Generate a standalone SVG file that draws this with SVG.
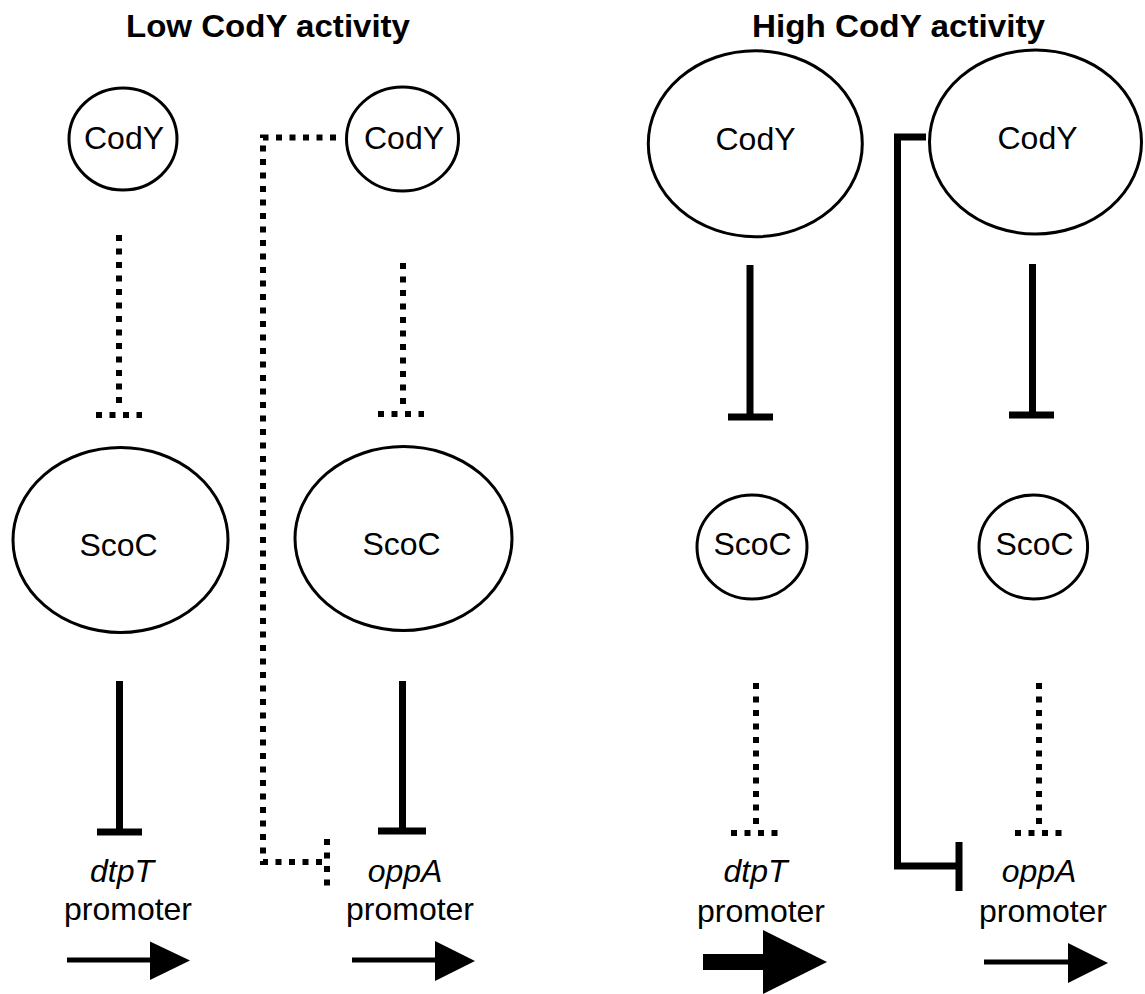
<svg xmlns="http://www.w3.org/2000/svg" width="1145" height="994" viewBox="0 0 1145 994">
<style>
.node{fill:#fff;stroke:#000;stroke-width:3}
.lbl{font-family:"Liberation Sans",Arial,sans-serif;font-size:32px;text-anchor:middle;fill:#000}
.it{font-style:italic}
.title{font-family:"Liberation Sans",Arial,sans-serif;font-size:32px;font-weight:bold;text-anchor:middle;fill:#000}
.solid{fill:none;stroke:#000;stroke-width:7}
.dot{fill:none;stroke:#000;stroke-width:6;stroke-dasharray:6 7.5}
.arr{fill:none;stroke:#000;stroke-width:5}
</style>
<rect width="1145" height="994" fill="#fff"/>
<g id="titles">
<text class="title" x="268" y="37" textLength="284" lengthAdjust="spacingAndGlyphs">Low CodY activity</text>
<text class="title" x="898.5" y="37" textLength="293" lengthAdjust="spacingAndGlyphs">High CodY activity</text>
</g>
<g id="connectors">
<path class="dot" d="M119 235V410M96 415H142"/>
<path class="dot" d="M403 263V408M378 414H424"/>
<path class="dot" d="M336 137.5H263V862H327M327 839V887"/>
<path class="solid" d="M119.5 681V832M97 832H142" stroke-width="6.5"/>
<path class="solid" d="M402.5 681V831M378 831H426" stroke-width="6.5"/>
<path class="solid" d="M750 265V417M728 417H773" stroke-width="6.5"/>
<path class="solid" d="M1032.5 264V415M1009 415H1054" stroke-width="6.5"/>
<path class="dot" d="M756 683V827M731 833H779"/>
<path class="dot" d="M1039 683V827M1015 833H1063"/>
<path class="solid" d="M926 137H897.5V866H959M959 842V891"/>
</g>
<g id="arrows">
<path class="arr" d="M67 960H152"/><polygon points="150,941.5 190,960.5 150,980"/>
<path class="arr" d="M352 960H437"/><polygon points="435,941 475,961 435,981"/>
<rect x="703" y="954" width="62" height="16"/><polygon points="763,930 827,962 763,994"/>
<path class="arr" d="M984 962H1070"/><polygon points="1068,943 1108,963 1068,983"/>
</g>
<g id="node-cody-low-1"><ellipse class="node" cx="123" cy="139" rx="54" ry="51"/><text class="lbl" x="124" y="149">CodY</text></g>
<g id="node-cody-low-2"><ellipse class="node" cx="402.5" cy="139" rx="56" ry="52"/><text class="lbl" x="404" y="149">CodY</text></g>
<g id="node-scoc-low-1"><ellipse class="node" cx="120.5" cy="540" rx="107.5" ry="92.5"/><text class="lbl" x="118.5" y="556">ScoC</text></g>
<g id="node-scoc-low-2"><ellipse class="node" cx="403.5" cy="538.5" rx="108.5" ry="92"/><text class="lbl" x="401.5" y="555">ScoC</text></g>
<g id="node-cody-high-1"><ellipse class="node" cx="755.3" cy="143.7" rx="107" ry="93"/><text class="lbl" x="755.5" y="150">CodY</text></g>
<g id="node-cody-high-2"><ellipse class="node" cx="1035.5" cy="142" rx="106" ry="92"/><text class="lbl" x="1037.5" y="149">CodY</text></g>
<g id="node-scoc-high-1"><ellipse class="node" cx="752" cy="547" rx="55" ry="52"/><text class="lbl" x="752.5" y="555">ScoC</text></g>
<g id="node-scoc-high-2"><ellipse class="node" cx="1033.3" cy="547" rx="54.3" ry="52"/><text class="lbl" x="1034.5" y="555">ScoC</text></g>
<g id="node-dtpT-low"><text class="lbl it" x="122" y="882">dtpT</text><text class="lbl" x="128" y="920">promoter</text></g>
<g id="node-oppA-low"><text class="lbl it" x="405" y="882">oppA</text><text class="lbl" x="410" y="920">promoter</text></g>
<g id="node-dtpT-high"><text class="lbl it" x="755.5" y="882">dtpT</text><text class="lbl" x="761" y="922">promoter</text></g>
<g id="node-oppA-high"><text class="lbl it" x="1039" y="882">oppA</text><text class="lbl" x="1043" y="922">promoter</text></g>
</svg>
